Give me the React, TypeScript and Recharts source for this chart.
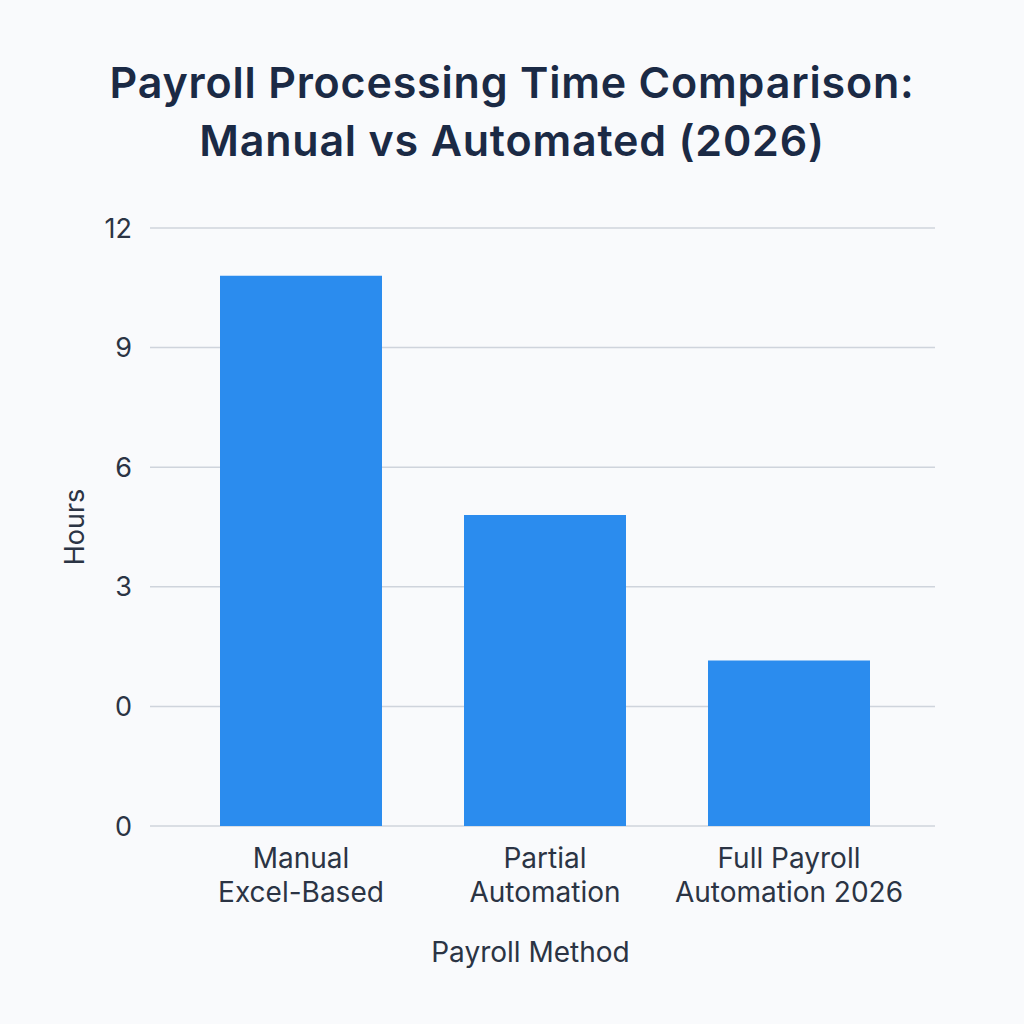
import { BarChart, Bar, XAxis, YAxis, CartesianGrid } from 'recharts'

const categories = ['Manual\nExcel-Based', 'Partial\nAutomation', 'Full Payroll\nAutomation 2026']
const hours = [10.8, 4.8, 1.15]
// the picture labels its bottom two gridlines both "0"
const yTicks = [-3, 0, 3, 6, 9, 12]
const yTickLabels = ['0', '0', '3', '6', '9', '12']

const yMin = yTicks[0]
const data = categories.map((name, i) => ({ name, range: [yMin, hours[i]] }))

const FONT = 'Inter, "Noto Sans", sans-serif'
const TEXT = '#2b3444'

function CategoryTick({ x, y, payload }: any) {
  const lines = String(payload.value).split('\n')
  return (
    <text x={x} y={y} textAnchor="middle" fill={TEXT} fontSize={28} fontFamily={FONT}>
      {lines.map((line, i) => (
        <tspan key={i} x={x} dy={34}>{line}</tspan>
      ))}
    </text>
  )
}

export default function App() {
  return (
    <div style={{ position: 'absolute', left: 0, top: 0, width: 1024, height: 1024, background: '#f9fafc' }}>
      <div
        style={{
          position: 'absolute', top: 53, left: 0, width: 1024, textAlign: 'center',
          fontFamily: FONT, fontWeight: 600, fontSize: 43, letterSpacing: 0.8, lineHeight: '58px', color: '#1b2a45',
        }}
      >
        Payroll Processing Time Comparison:<br />Manual vs Automated (2026)
      </div>
      <BarChart
        width={1024}
        height={1024}
        data={data}
        margin={{ top: 228, right: 89, bottom: 48, left: 60 }}
        style={{ position: 'absolute', left: 0, top: 0 }}
      >
        <CartesianGrid vertical={false} stroke="#cfd4dc" strokeWidth={1.5} />
        <XAxis
          dataKey="name"
          axisLine={false}
          tickLine={false}
          interval={0}
          height={150}
          padding={{ left: 29, right: 24 }}
          tick={<CategoryTick />}
          label={{ value: 'Payroll Method', position: 'insideBottom', offset: 14, dx: -12, fill: TEXT, fontSize: 28, fontFamily: FONT }}
        />
        <YAxis
          type="number"
          domain={[yMin, 12]}
          ticks={yTicks}
          tickFormatter={(v: number) => yTickLabels[yTicks.indexOf(v)]}
          axisLine={false}
          tickLine={false}
          tickSize={0}
          tickMargin={18}
          width={90}
          tick={{ fill: TEXT, fontSize: 27, fontFamily: FONT }}
          label={{ value: 'Hours', angle: -90, position: 'insideLeft', offset: 14, fill: TEXT, fontSize: 27, fontFamily: FONT, style: { textAnchor: 'middle' } }}
        />
        <Bar dataKey="range" fill="#2b8cee" barSize={162} isAnimationActive={false} />
      </BarChart>
    </div>
  )
}
